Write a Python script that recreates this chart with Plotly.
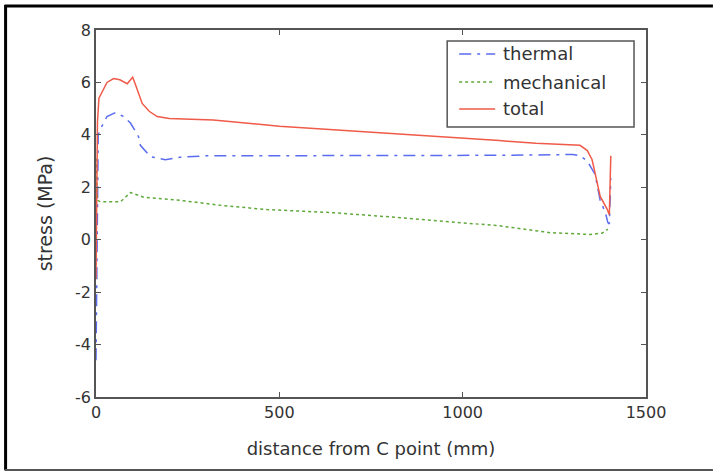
import plotly.graph_objects as go

# ---- data ----
thermal_x = [0, 3, 6, 15, 30, 53, 75, 94, 116, 121, 148, 189, 230, 300, 500, 800, 1100, 1300, 1320, 1340, 1361, 1375, 1389, 1396, 1400, 1404]
thermal_y = [-4.6, 0.0, 4.0, 4.3, 4.7, 4.85, 4.7, 4.45, 3.93, 3.6, 3.17, 3.05, 3.15, 3.2, 3.2, 3.2, 3.22, 3.25, 3.2, 3.0, 2.5, 1.5, 1.05, 0.65, 0.6, 2.35]

mech_x = [0, 4, 12, 67, 94, 130, 230, 348, 467, 648, 830, 1000, 1100, 1238, 1300, 1348, 1380, 1396]
mech_y = [3.1, 1.5, 1.45, 1.45, 1.8, 1.62, 1.5, 1.3, 1.15, 1.03, 0.84, 0.65, 0.53, 0.27, 0.22, 0.2, 0.25, 0.4]

total_x = [0, 2, 4, 8, 15, 30, 48, 65, 85, 95, 100, 108, 126, 145, 167, 200, 320, 500, 700, 830, 1000, 1100, 1200, 1300, 1320, 1340, 1353, 1361, 1375, 1393, 1400, 1404]
total_y = [-1.5, 2.0, 4.5, 5.4, 5.6, 6.0, 6.15, 6.1, 5.95, 6.1, 6.2, 5.9, 5.2, 4.9, 4.7, 4.62, 4.57, 4.33, 4.15, 4.05, 3.88, 3.78, 3.68, 3.62, 3.6, 3.4, 3.05, 2.55, 1.65, 1.2, 0.95, 3.2]

x_ticks = [0, 500, 1000, 1500]
y_ticks = [-6, -4, -2, 0, 2, 4, 6, 8]
y_tick_text = ["-6", "-4", "-2", "0", "2", "4", "6", "8"]

series_names = ["thermal", "mechanical", "total"]
series_colors = ["#5a6cf0", "#5fa83a", "#f05a48"]
series_dash = ["12px,6px,3px,6px", "3px,3px", "solid"]

W, H = 713, 471
ML, MR, MT, MB = 95.5, 67, 30, 74
PW = W - ML - MR
PH = H - MT - MB


def px(x):
    return (x - ML) / PW


def py(y):
    return (H - MB - y) / PH


fig = go.Figure()
for xs, ys, name, col, dash in zip(
    [thermal_x, mech_x, total_x], [thermal_y, mech_y, total_y],
    series_names, series_colors, series_dash):
    fig.add_trace(go.Scatter(x=xs, y=ys, mode="lines", name=name,
                             line=dict(color=col, width=1.5, dash=dash),
                             showlegend=False))

FAM = "DejaVu Sans, Verdana, sans-serif"
tick_font = dict(family=FAM, size=16, color="#333")
title_font = dict(family=FAM, size=18, color="#333")
legend_font = dict(family=FAM, size=18, color="#333")

axis_common = dict(showgrid=False, zeroline=False, showline=True, linecolor="#555",
                   linewidth=1.5, mirror="ticks", ticks="inside", ticklen=5,
                   tickcolor="#555", tickfont=tick_font)

fig.update_xaxes(range=[0, 1500], tickvals=x_ticks,
                 title=dict(text="distance from C point (mm)", font=title_font, standoff=21),
                 **axis_common)
fig.update_yaxes(range=[-6, 8], tickvals=y_ticks, ticktext=y_tick_text,
                 title=dict(text="stress (MPa)", font=dict(family=FAM, size=19, color="#333"), standoff=17),
                 **axis_common)

shapes = []
# outer frame of the picture
shapes.append(dict(type="line", xref="paper", yref="paper", x0=px(5), x1=px(5), y0=py(5), y1=py(470),
                   line=dict(color="#000", width=3)))
shapes.append(dict(type="line", xref="paper", yref="paper", x0=px(4), x1=px(713), y0=py(6), y1=py(6),
                   line=dict(color="#000", width=3)))
shapes.append(dict(type="line", xref="paper", yref="paper", x0=px(4), x1=px(713), y0=py(470), y1=py(470),
                   line=dict(color="#555", width=2)))
# legend box
shapes.append(dict(type="rect", xref="paper", yref="paper", x0=px(447), x1=px(634), y0=py(41), y1=py(127),
                   line=dict(color="#555", width=1.5), fillcolor="white", layer="above"))
annotations = []
rows = [54, 82, 109]
for name, col, dash, ry in zip(series_names, series_colors, series_dash, rows):
    shapes.append(dict(type="line", xref="paper", yref="paper", x0=px(459), x1=px(495), y0=py(ry), y1=py(ry),
                       line=dict(color=col, width=1.5, dash=dash), layer="above"))
    annotations.append(dict(xref="paper", yref="paper", x=px(501), y=py(ry), text=name, showarrow=False,
                            xanchor="left", yanchor="middle", font=legend_font))

fig.update_layout(width=W, height=H, margin=dict(l=ML, r=MR, t=MT, b=MB),
                  plot_bgcolor="white", paper_bgcolor="white", font=tick_font,
                  shapes=shapes, annotations=annotations)

fig.write_html("out.html", config={"displayModeBar": False},
               post_script="document.body.style.margin='0px';")
